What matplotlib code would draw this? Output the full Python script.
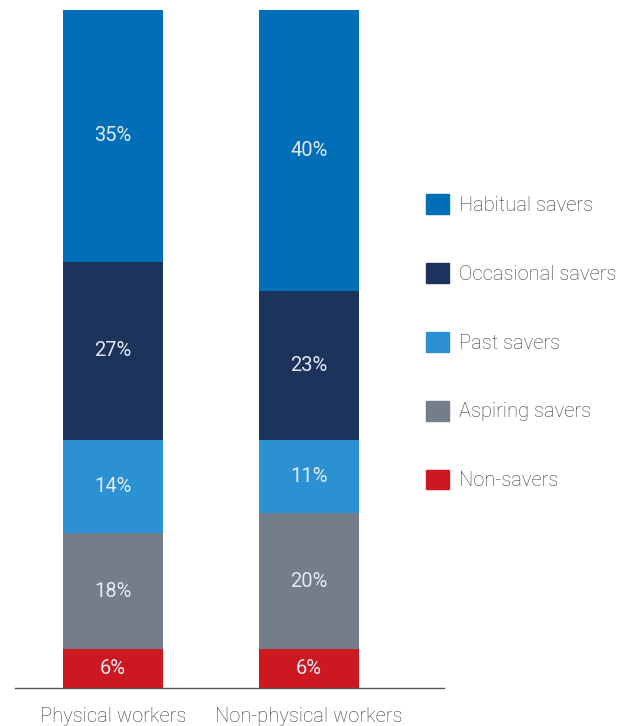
import numpy as np
import matplotlib.pyplot as plt
from matplotlib.patches import Patch

plt.rcParams['font.family'] = ['Roboto', 'DejaVu Sans']

categories = ["Physical workers", "Non-physical workers"]
segments = ["Non-savers", "Aspiring savers", "Past savers", "Occasional savers", "Habitual savers"]
colors = ["#cc1820", "#737e8a", "#2b91d2", "#1c335b", "#006fb8"]

# segment heights as drawn (bottom to top)
physical = [5.8, 17.0, 13.8, 26.3, 37.1]
non_physical = [5.75, 20.0, 10.8, 22.0, 41.4]
# printed labels
physical_labels = ["6%", "18%", "14%", "27%", "35%"]
non_physical_labels = ["6%", "20%", "11%", "23%", "40%"]


def main():
    fig = plt.figure(figsize=(6.23, 7.26), dpi=100)
    ax = fig.add_axes([15 / 623, 38 / 726, (444 - 15) / 623, (688 - 10) / 726])

    x = np.arange(len(categories))
    width = 100 / 196
    data = np.array([physical, non_physical])
    labels = [physical_labels, non_physical_labels]
    bottom = np.zeros(len(categories))
    for i, seg in enumerate(segments):
        vals = data[:, i]
        ax.bar(x, vals, width, bottom=bottom, color=colors[i], label=seg)
        for j in range(len(categories)):
            ax.text(x[j], bottom[j] + vals[j] / 2, labels[j][i], ha="center", va="center",
                    color="#e2e9f1", fontsize=14.5)
        bottom += vals

    ax.set_xlim(-0.5, 1 + (444 - 309) / 196)
    ax.set_ylim(0, 100)
    ax.set_yticks([])
    ax.set_xticks(x)
    ax.set_xticklabels(categories, fontsize=14.5, color="#3a3a3a", fontweight="light")
    ax.tick_params(axis="x", length=0, pad=14)
    for s in ["top", "right", "left"]:
        ax.spines[s].set_visible(False)
    ax.spines["bottom"].set_color("#555555")
    ax.spines["bottom"].set_linewidth(1)

    handles = [Patch(color=colors[i], label=segments[i]) for i in range(len(segments) - 1, -1, -1)]
    leg = fig.legend(handles=handles, loc="upper left", bbox_to_anchor=(426 / 623, 1 - 194 / 726),
                     frameon=False, fontsize=14.5, borderpad=0, borderaxespad=0,
                     handlelength=1.14, handleheight=1.14, handletextpad=0.5, labelspacing=2.39)
    for t in leg.get_texts():
        t.set_color("#3a3a3a")
        t.set_fontweight("light")

    fig.savefig("out.png", dpi=100)


if __name__ == "__main__":
    main()
